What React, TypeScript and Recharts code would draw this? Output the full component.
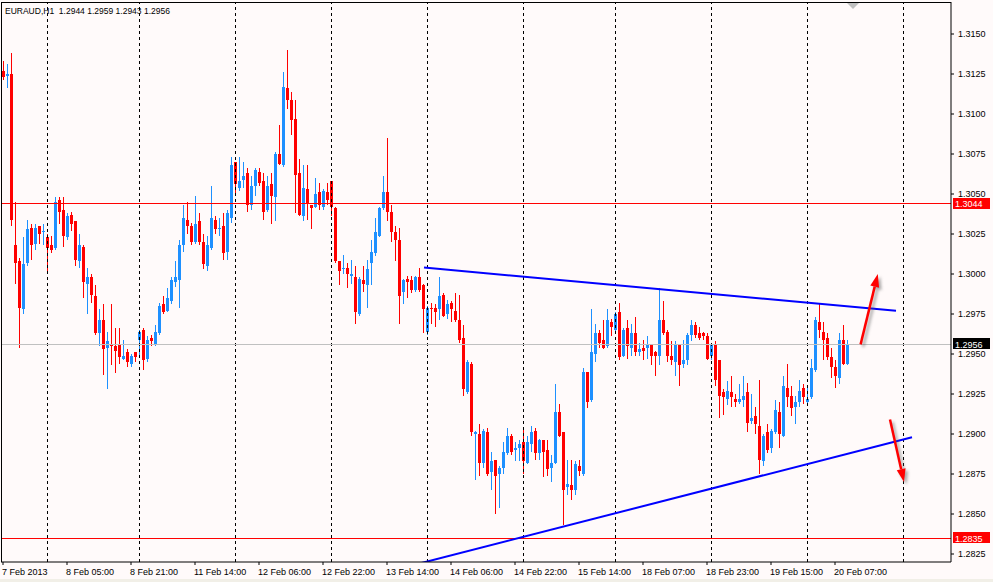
import React from 'react';
import { ComposedChart, Bar, XAxis, YAxis, ReferenceLine } from 'recharts';

const FONT = '"Liberation Sans", "DejaVu Sans", Arial, sans-serif';
const BULL = '#1e90ff';
const BEAR = '#ff0000';
const BG = '#fffafa';

// EURAUD H1 bars, oldest first (7 Feb 13:00 .. 20 Feb 10:00)
const opens = [
  1.3127, 1.3124, 1.3125, 1.3018, 1.3008, 1.2978, 1.3007, 1.3029, 1.3019, 1.3030,
  1.3026, 1.3023, 1.3018, 1.3016, 1.3046, 1.3040, 1.3023, 1.3037, 1.3033, 1.3008,
  1.3017, 1.2994, 1.2998, 1.2986, 1.2963, 1.2971, 1.2954, 1.2956, 1.2955, 1.2956,
  1.2947, 1.2951, 1.2944, 1.2951, 1.2959, 1.2965, 1.2947, 1.2960, 1.2956, 1.2963,
  1.2981, 1.2977, 1.2983, 1.2995, 1.2996, 1.3018, 1.3034, 1.3030, 1.3020, 1.3033,
  1.3020, 1.3005, 1.3016, 1.3034, 1.3028, 1.3030, 1.3014, 1.3035, 1.3070, 1.3054,
  1.3059, 1.3063, 1.3043, 1.3055, 1.3064, 1.3058, 1.3040, 1.3056, 1.3048, 1.3075,
  1.3068, 1.3116, 1.3109, 1.3097, 1.3063, 1.3036, 1.3053, 1.3043, 1.3042, 1.3051,
  1.3042, 1.3051, 1.3058, 1.3041, 1.3008, 1.3003, 1.3004, 1.2999, 1.2998, 1.2975,
  1.2996, 1.2993, 1.3007, 1.3013, 1.3024, 1.3041, 1.3051, 1.3039, 1.3026, 1.3021,
  1.2989, 1.2997, 1.2996, 1.2990, 1.2998, 1.2993, 1.2964, 1.2979, 1.2979, 1.2978,
  1.2987, 1.2975, 1.2982, 1.2977, 1.2971, 1.2960, 1.2926, 1.2944, 1.2900, 1.2900,
  1.2882, 1.2901, 1.2876, 1.2884, 1.2875, 1.2879, 1.2888, 1.2899, 1.2890, 1.2891,
  1.2895, 1.2882, 1.2894, 1.2902, 1.2888, 1.2896, 1.2890, 1.2879, 1.2882, 1.2914,
  1.2901, 1.2867, 1.2868, 1.2865, 1.2880, 1.2875, 1.2939, 1.2921, 1.2950, 1.2963,
  1.2959, 1.2955, 1.2970, 1.2965, 1.2976, 1.2949, 1.2966, 1.2954, 1.2963, 1.2951,
  1.2954, 1.2954, 1.2956, 1.2951, 1.2949, 1.2971, 1.2964, 1.2949, 1.2945, 1.2956,
  1.2944, 1.2946, 1.2962, 1.2968, 1.2963, 1.2963, 1.2961, 1.2949, 1.2956, 1.2946,
  1.2926, 1.2922, 1.2926, 1.2922, 1.2920, 1.2921, 1.2926, 1.2908, 1.2911, 1.2905,
  1.2883, 1.2901, 1.2891, 1.2901, 1.2914, 1.2899, 1.2929, 1.2924, 1.2917, 1.2920,
  1.2929, 1.2920, 1.2923, 1.2940, 1.2970, 1.2964, 1.2960, 1.2948, 1.2942, 1.2935,
  1.2959, 1.2944,
];

const highs = [
  1.3133, 1.3131, 1.3138, 1.3045, 1.3010, 1.3023, 1.3034, 1.3031, 1.3031, 1.3030,
  1.3031, 1.3025, 1.3024, 1.3048, 1.3048, 1.3048, 1.3038, 1.3039, 1.3033, 1.3025,
  1.3018, 1.3004, 1.3000, 1.2993, 1.2978, 1.2981, 1.2964, 1.2981, 1.2966, 1.2966,
  1.2959, 1.2953, 1.2950, 1.2951, 1.2965, 1.2966, 1.2961, 1.2962, 1.2968, 1.2982,
  1.2986, 1.2991, 1.2998, 1.3008, 1.3021, 1.3043, 1.3045, 1.3032, 1.3049, 1.3038,
  1.3025, 1.3024, 1.3055, 1.3036, 1.3035, 1.3038, 1.3040, 1.3073, 1.3070, 1.3073,
  1.3070, 1.3066, 1.3061, 1.3066, 1.3066, 1.3063, 1.3061, 1.3063, 1.3076, 1.3093,
  1.3126, 1.3140, 1.3114, 1.3109, 1.3072, 1.3068, 1.3068, 1.3043, 1.3060, 1.3057,
  1.3053, 1.3057, 1.3058, 1.3042, 1.3008, 1.3012, 1.3007, 1.3009, 1.3005, 1.2998,
  1.3005, 1.3009, 1.3021, 1.3035, 1.3042, 1.3061, 1.3085, 1.3043, 1.3030, 1.3029,
  1.2997, 1.2999, 1.2999, 1.2999, 1.3004, 1.2994, 1.2980, 1.2982, 1.2981, 1.2998,
  1.2988, 1.2984, 1.2983, 1.2988, 1.2987, 1.2968, 1.2946, 1.2945, 1.2902, 1.2906,
  1.2903, 1.2904, 1.2889, 1.2884, 1.2880, 1.2895, 1.2904, 1.2900, 1.2895, 1.2896,
  1.2904, 1.2899, 1.2905, 1.2904, 1.2897, 1.2896, 1.2896, 1.2887, 1.2931, 1.2919,
  1.2901, 1.2884, 1.2884, 1.2883, 1.2884, 1.2941, 1.2939, 1.2978, 1.2969, 1.2965,
  1.2971, 1.2978, 1.2972, 1.2976, 1.2982, 1.2966, 1.2971, 1.2969, 1.2973, 1.2957,
  1.2959, 1.2961, 1.2956, 1.2952, 1.2991, 1.2983, 1.2965, 1.2958, 1.2958, 1.2956,
  1.2959, 1.2963, 1.2971, 1.2970, 1.2967, 1.2964, 1.2963, 1.2957, 1.2958, 1.2946,
  1.2928, 1.2933, 1.2936, 1.2925, 1.2931, 1.2936, 1.2932, 1.2925, 1.2917, 1.2934,
  1.2900, 1.2906, 1.2903, 1.2921, 1.2920, 1.2936, 1.2944, 1.2930, 1.2924, 1.2934,
  1.2931, 1.2930, 1.2947, 1.2973, 1.2981, 1.2970, 1.2963, 1.2954, 1.2946, 1.2963,
  1.2968, 1.2959,
];

const lows = [
  1.3121, 1.3116, 1.3030, 1.2994, 1.2954, 1.2975, 1.3005, 1.3009, 1.3015, 1.3019,
  1.3018, 1.3002, 1.3013, 1.3015, 1.3031, 1.3017, 1.3021, 1.3027, 1.3005, 1.3004,
  1.2985, 1.2975, 1.2982, 1.2962, 1.2955, 1.2937, 1.2928, 1.2943, 1.2938, 1.2944,
  1.2946, 1.2942, 1.2942, 1.2945, 1.2948, 1.2940, 1.2945, 1.2955, 1.2955, 1.2962,
  1.2975, 1.2976, 1.2981, 1.2992, 1.2979, 1.3014, 1.3025, 1.3018, 1.3019, 1.3018,
  1.3003, 1.3002, 1.3015, 1.3025, 1.3024, 1.3009, 1.3009, 1.3032, 1.3049, 1.3052,
  1.3054, 1.3039, 1.3040, 1.3049, 1.3055, 1.3034, 1.3039, 1.3031, 1.3033, 1.3068,
  1.3067, 1.3103, 1.3087, 1.3038, 1.3036, 1.3033, 1.3034, 1.3028, 1.3041, 1.3040,
  1.3040, 1.3043, 1.3036, 1.3007, 1.2993, 1.3000, 1.2991, 1.2994, 1.2969, 1.2974,
  1.2989, 1.2979, 1.2993, 1.3011, 1.3023, 1.3040, 1.3033, 1.3020, 1.3008, 1.2969,
  1.2981, 1.2985, 1.2988, 1.2989, 1.2989, 1.2963, 1.2962, 1.2969, 1.2967, 1.2971,
  1.2973, 1.2972, 1.2970, 1.2970, 1.2957, 1.2924, 1.2925, 1.2899, 1.2871, 1.2874,
  1.2879, 1.2874, 1.2865, 1.2850, 1.2854, 1.2875, 1.2887, 1.2887, 1.2883, 1.2883,
  1.2875, 1.2881, 1.2889, 1.2884, 1.2884, 1.2873, 1.2874, 1.2870, 1.2881, 1.2898,
  1.2843, 1.2862, 1.2859, 1.2862, 1.2874, 1.2874, 1.2916, 1.2920, 1.2945, 1.2954,
  1.2953, 1.2954, 1.2961, 1.2964, 1.2946, 1.2948, 1.2947, 1.2949, 1.2949, 1.2949,
  1.2946, 1.2947, 1.2943, 1.2936, 1.2943, 1.2962, 1.2945, 1.2943, 1.2936, 1.2930,
  1.2941, 1.2943, 1.2958, 1.2960, 1.2959, 1.2959, 1.2946, 1.2946, 1.2930, 1.2910,
  1.2912, 1.2918, 1.2917, 1.2917, 1.2919, 1.2917, 1.2901, 1.2906, 1.2900, 1.2875,
  1.2880, 1.2888, 1.2888, 1.2900, 1.2891, 1.2898, 1.2917, 1.2911, 1.2906, 1.2917,
  1.2919, 1.2919, 1.2922, 1.2939, 1.2960, 1.2946, 1.2946, 1.2935, 1.2929, 1.2931,
  1.2943, 1.2943,
];

const closes = [
  1.3123, 1.3125, 1.3034, 1.3007, 1.2979, 1.3006, 1.3028, 1.3018, 1.3029, 1.3025,
  1.3027, 1.3016, 1.3015, 1.3045, 1.3039, 1.3024, 1.3036, 1.3031, 1.3009, 1.3018,
  1.2995, 1.2998, 1.2987, 1.2963, 1.2971, 1.2953, 1.2958, 1.2955, 1.2952, 1.2948,
  1.2949, 1.2945, 1.2949, 1.2948, 1.2964, 1.2946, 1.2959, 1.2958, 1.2964, 1.2980,
  1.2976, 1.2985, 1.2996, 1.2998, 1.3018, 1.3035, 1.3030, 1.3020, 1.3031, 1.3020,
  1.3006, 1.3018, 1.3035, 1.3028, 1.3029, 1.3013, 1.3038, 1.3068, 1.3056, 1.3058,
  1.3061, 1.3043, 1.3055, 1.3065, 1.3057, 1.3039, 1.3055, 1.3049, 1.3075, 1.3069,
  1.3117, 1.3109, 1.3096, 1.3062, 1.3037, 1.3054, 1.3044, 1.3041, 1.3050, 1.3043,
  1.3052, 1.3046, 1.3042, 1.3008, 1.3002, 1.3004, 1.3000, 1.3000, 1.2976, 1.2997,
  1.2994, 1.3003, 1.3014, 1.3026, 1.3041, 1.3051, 1.3039, 1.3026, 1.3021, 1.2986,
  1.2996, 1.2995, 1.2990, 1.2998, 1.2990, 1.2978, 1.2979, 1.2978, 1.2976, 1.2986,
  1.2974, 1.2981, 1.2978, 1.2971, 1.2959, 1.2928, 1.2945, 1.2901, 1.2901, 1.2882,
  1.2902, 1.2875, 1.2883, 1.2874, 1.2879, 1.2889, 1.2899, 1.2889, 1.2891, 1.2894,
  1.2883, 1.2895, 1.2901, 1.2888, 1.2896, 1.2889, 1.2878, 1.2882, 1.2914, 1.2899,
  1.2865, 1.2869, 1.2865, 1.2881, 1.2877, 1.2939, 1.2920, 1.2951, 1.2963, 1.2957,
  1.2954, 1.2971, 1.2967, 1.2975, 1.2948, 1.2965, 1.2955, 1.2963, 1.2951, 1.2953,
  1.2952, 1.2956, 1.2949, 1.2949, 1.2971, 1.2963, 1.2949, 1.2946, 1.2956, 1.2943,
  1.2946, 1.2962, 1.2968, 1.2962, 1.2960, 1.2961, 1.2947, 1.2956, 1.2934, 1.2924,
  1.2923, 1.2927, 1.2923, 1.2920, 1.2922, 1.2924, 1.2907, 1.2910, 1.2906, 1.2884,
  1.2899, 1.2890, 1.2902, 1.2915, 1.2900, 1.2930, 1.2923, 1.2916, 1.2920, 1.2927,
  1.2923, 1.2922, 1.2941, 1.2971, 1.2965, 1.2959, 1.2948, 1.2942, 1.2936, 1.2959,
  1.2944, 1.2956,
];

// time axis: bar index -> label
const timeTicks = [0, 16, 32, 48, 64, 80, 96, 112, 128, 144, 160, 176, 192, 208];
const timeLabels = [
  '7 Feb 2013', '8 Feb 05:00', '8 Feb 21:00', '11 Feb 14:00', '12 Feb 06:00',
  '12 Feb 22:00', '13 Feb 14:00', '14 Feb 06:00', '14 Feb 22:00', '15 Feb 14:00',
  '18 Feb 07:00', '18 Feb 23:00', '19 Feb 15:00', '20 Feb 07:00',
];
const priceTicks = [
  1.2825, 1.2850, 1.2875, 1.2900, 1.2925, 1.2950, 1.2975,
  1.3000, 1.3025, 1.3050, 1.3075, 1.3100, 1.3125, 1.3150,
];
// bar index of each day start (dotted grid)
const daySeparators = [11, 34, 58, 82, 106, 130, 153, 177, 201, 225];

// drawn objects, in (bar index, price)
const resistance = [{ x: 105.25, y: 1.3004 }, { x: 223.25, y: 1.2977 }];
const support = [{ x: 104, y: 1.2819 }, { x: 227.25, y: 1.2898 }];
const upArrow = [{ x: 214.4, y: 1.2956 }, { x: 218.7, y: 1.3000 }];
const downArrow = [{ x: 221.75, y: 1.2909 }, { x: 225.25, y: 1.2870 }];

const levelHigh = 1.3044;
const bidLevel = 1.2956;
const levelLow = 1.2835;

const candles = opens.map((o, i) => ({
  i,
  o,
  h: highs[i],
  l: lows[i],
  c: closes[i],
  range: [lows[i], highs[i]],
}));

const Candle = (props: any) => {
  const { x, y, width, height, payload } = props;
  if (x == null || y == null || !payload) return null;
  const { o, h, l, c } = payload;
  const top = Math.min(y, y + height);
  const span = Math.abs(height);
  const cx = Math.round(x + width / 2);
  const perUnit = h === l ? 0 : span / (h - l);
  const toY = (v: number) => top + (h - v) * perUnit;
  const bodyTop = Math.round(toY(Math.max(o, c)));
  const bodyBot = Math.round(toY(Math.min(o, c)));
  const color = c >= o ? BULL : BEAR;
  const wickTop = Math.round(top);
  const wickBot = Math.round(top + span);
  return (
    <g shapeRendering="crispEdges">
      <rect x={cx} y={wickTop} width={1} height={Math.max(1, wickBot - wickTop)} fill={color} />
      <rect x={cx - 1} y={bodyTop} width={3} height={Math.max(1, bodyBot - bodyTop)} fill={color} />
    </g>
  );
};

const TimeTick = (props: any) => {
  const { x, y, payload } = props;
  const label = timeLabels[timeTicks.indexOf(payload.value)];
  return (
    <text x={x - 1} y={y} dy={8} fontSize={9} fontFamily={FONT} fill="#000" textAnchor="start">
      {label}
    </text>
  );
};

const PriceTag = ({ viewBox, text, fill }: any) => {
  if (!viewBox) return null;
  const x = viewBox.x + viewBox.width + 2;
  const y = viewBox.y;
  return (
    <g>
      <rect x={x} y={y - 6} width={37} height={11} fill={fill} shapeRendering="crispEdges" />
      <text x={x + 2} y={y + 3.5} fontSize={9} fontFamily={FONT} fill="#fff">
        {text}
      </text>
    </g>
  );
};

const Arrow = (props: any) => {
  const { x1, y1, x2, y2 } = props;
  if (x1 == null) return null;
  const dx = x2 - x1;
  const dy = y2 - y1;
  const len = Math.hypot(dx, dy) || 1;
  const ux = dx / len;
  const uy = dy / len;
  const head = 13;
  const half = 4.5;
  const bx = x2 - ux * head;
  const by = y2 - uy * head;
  const pts = `${x2},${y2} ${bx - uy * half},${by + ux * half} ${bx + uy * half},${by - ux * half}`;
  return (
    <g>
      <defs>
        <filter id="arrowBlur" x="-50%" y="-50%" width="200%" height="200%">
          <feGaussianBlur stdDeviation="1.6" />
        </filter>
      </defs>
      <g transform="translate(2.5,2.5)" opacity={0.5} filter="url(#arrowBlur)">
        <line x1={x1} y1={y1} x2={bx} y2={by} stroke="#555" strokeWidth={2.5} />
        <polygon points={pts} fill="#555" />
      </g>
      <line x1={x1} y1={y1} x2={bx} y2={by} stroke="#ff0000" strokeWidth={2.5} />
      <polygon points={pts} fill="#ff0000" />
    </g>
  );
};

export default function App() {
  return (
    <div
      style={{
        position: 'absolute',
        left: 0,
        top: 0,
        width: 993,
        height: 582,
        background: BG,
        overflow: 'hidden',
        fontFamily: FONT,
      }}
    >
      <ComposedChart width={993} height={582} data={candles} margin={{ top: 2, right: 0, bottom: 0, left: 1 }}>
        <XAxis
          dataKey="i"
          type="number"
          domain={[-0.5, 237]}
          allowDataOverflow
          ticks={timeTicks}
          interval={0}
          tick={<TimeTick />}
          tickSize={3}
          height={20}
          axisLine={{ stroke: '#000' }}
          tickLine={{ stroke: '#000' }}
        />
        <YAxis
          orientation="right"
          type="number"
          domain={[1.282, 1.317]}
          allowDataOverflow
          ticks={priceTicks}
          interval={0}
          width={42}
          tickSize={3}
          tickMargin={4}
          tickFormatter={(v: number) => v.toFixed(4)}
          tick={{ fontSize: 9, fill: '#000', fontFamily: FONT }}
          axisLine={{ stroke: '#000' }}
          tickLine={{ stroke: '#000' }}
        />
        {daySeparators.map((d) => (
          <ReferenceLine key={d} x={d} stroke="#000" strokeDasharray="3 3" shapeRendering="crispEdges" />
        ))}
        <ReferenceLine
          y={levelHigh}
          stroke="#ff0000"
          shapeRendering="crispEdges"
          label={(p: any) => <PriceTag {...p} text={levelHigh.toFixed(4)} fill="#ff0000" />}
        />
        <ReferenceLine
          y={bidLevel}
          stroke="#c0c0c0"
          shapeRendering="crispEdges"
          label={(p: any) => <PriceTag {...p} text={bidLevel.toFixed(4)} fill="#000" />}
        />
        <ReferenceLine
          y={levelLow}
          stroke="#ff0000"
          shapeRendering="crispEdges"
          label={(p: any) => <PriceTag {...p} text={levelLow.toFixed(4)} fill="#ff0000" />}
        />
        <Bar dataKey="range" barSize={3} isAnimationActive={false} shape={(p: any) => <Candle {...p} />} />
        <ReferenceLine segment={resistance} stroke="#0000ff" strokeWidth={2} ifOverflow="hidden" />
        <ReferenceLine segment={support} stroke="#0000ff" strokeWidth={2} ifOverflow="hidden" />
        <ReferenceLine segment={upArrow} ifOverflow="visible" shape={(p: any) => <Arrow {...p} />} />
        <ReferenceLine segment={downArrow} ifOverflow="visible" shape={(p: any) => <Arrow {...p} />} />
      </ComposedChart>

      {/* top and left edges of the chart frame */}
      <div
        style={{
          position: 'absolute',
          left: 1,
          top: 2,
          width: 950,
          height: 560,
          borderTop: '1px solid #000',
          borderLeft: '1px solid #000',
          boxSizing: 'border-box',
          pointerEvents: 'none',
        }}
      />
      <div
        style={{
          position: 'absolute',
          left: 5,
          top: 6,
          fontSize: 8.5,
          lineHeight: '10px',
          whiteSpace: 'pre',
          color: '#000',
        }}
      >
        EURAUD,H1  1.2944 1.2959 1.2943 1.2956
      </div>
      <svg style={{ position: 'absolute', left: 846, top: 2 }} width={14} height={9}>
        <polygon points="1,1 13,1 7,7" fill="#c0c0c0" />
      </svg>
      <div style={{ position: 'absolute', left: 0, top: 579, width: 993, height: 3, background: '#f1efe7' }} />
    </div>
  );
}
